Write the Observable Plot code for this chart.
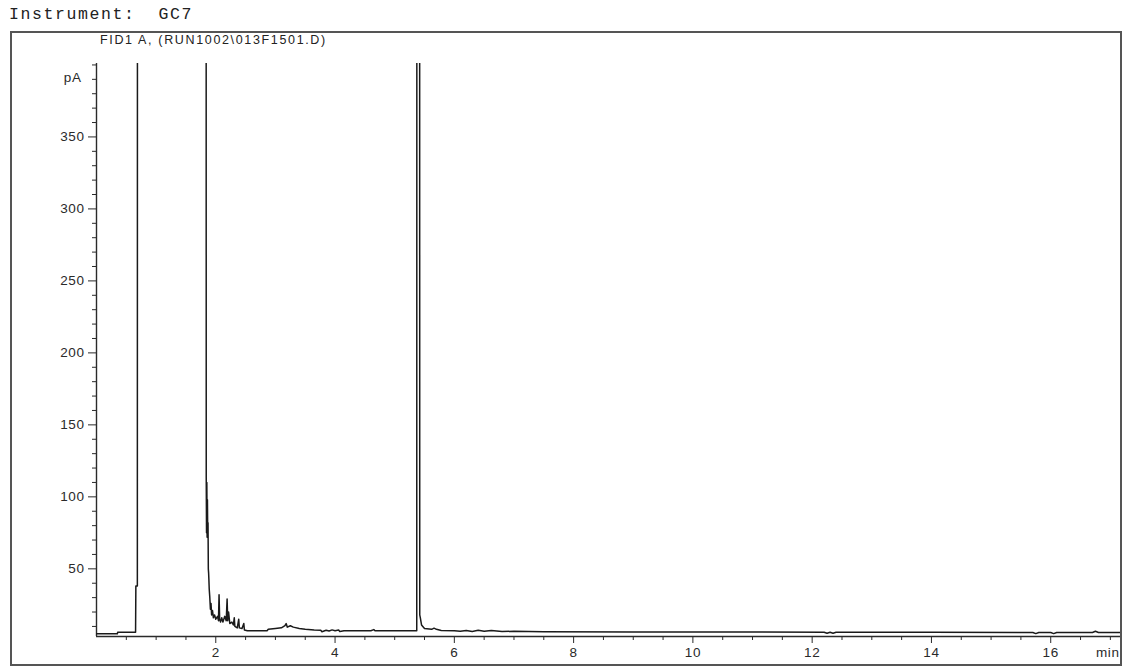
<!DOCTYPE html>
<html>
<head>
<meta charset="utf-8">
<script src="https://cdn.jsdelivr.net/npm/d3@7"></script>
<script src="https://cdn.jsdelivr.net/npm/@observablehq/plot@0.6"></script>
<style>
  html, body { margin: 0; padding: 0; background: #fff; }
  body { width: 1124px; height: 667px; position: relative; overflow: hidden; }
  #title {
    position: absolute; left: 9px; top: 5px;
    font-family: "Liberation Mono", "DejaVu Sans Mono", monospace;
    font-size: 16.5px; letter-spacing: 1.6px; color: #222; white-space: pre;
  }
  #box {
    position: absolute; left: 10px; top: 31px;
    width: 1108px; height: 631px;
    border: 2px solid #555;
  }
  #subtitle {
    height: 17px; line-height: 15px; padding-left: 88px;
    font-family: "Liberation Sans", Arial, sans-serif;
    font-size: 12.5px; letter-spacing: 1.65px; color: #222; white-space: pre;
  }
  #chart svg text { letter-spacing: 0.6px; }
</style>
</head>
<body>
<div id="title">Instrument:  GC7</div>
<div id="box">
  <div id="subtitle">FID1 A, (RUN1002\013F1501.D)</div>
  <div id="chart"></div>
</div>
<script>
// Retention time (min) and detector signal (pA); 1500 marks off-scale peaks
const time = [
  0.00, 0.35, 0.355, 0.655, 0.66, 0.685, 0.69,
  1.835, 1.84, 1.845, 1.85, 1.855, 1.86, 1.865, 1.87, 1.875, 1.88, 1.885, 1.89,
  1.90, 1.91, 1.92, 1.93, 1.945, 1.96, 1.98, 2.00, 2.03, 2.045, 2.055, 2.065,
  2.08, 2.10, 2.12, 2.15, 2.175, 2.19, 2.20, 2.215, 2.235, 2.27, 2.295, 2.31,
  2.32, 2.36, 2.385, 2.395, 2.44, 2.47, 2.48, 2.53, 2.86, 2.88, 3.00, 3.10,
  3.16, 3.18, 3.20, 3.25, 3.30, 3.40, 3.50, 3.65, 3.76, 3.78, 3.85, 3.90, 3.95,
  4.00, 4.06, 4.08, 4.15, 4.60, 4.65, 4.67, 5.00, 5.37,
  5.375, 5.415, 5.42, 5.43, 5.45, 5.50, 5.62, 5.66, 5.70, 5.78,
  6.00, 6.10, 6.20, 6.30, 6.40, 6.50, 6.62, 6.80, 7.00, 7.50, 9.00, 10.5,
  12.20, 12.25, 12.30, 12.35, 12.40, 14.0, 15.70, 15.75, 15.80, 16.00, 16.05,
  16.10, 16.70, 16.75, 16.80, 17.17
];
const signal = [
  4.9, 4.9, 6.0, 6.0, 38, 38, 1500,
  1500, 113, 75, 110, 72, 98, 74, 82, 50, 47, 42, 36,
  30, 22, 26, 18, 21, 16, 18, 15, 17, 14, 32, 15,
  13, 16, 13, 17, 14, 29, 14, 20, 12, 13, 11, 16,
  10, 9, 15, 9, 8.5, 12, 7.5, 7, 7, 8, 8.5, 9,
  10.5, 12, 9.5, 10.5, 9.5, 8.5, 8, 7.5, 7.3, 6.3, 7.3, 6.8, 7.6,
  7, 7.5, 6.4, 7, 7, 7.8, 7, 7, 7,
  1500, 1500, 18, 16, 11, 8.5, 8, 8.8, 8, 7.2,
  7, 6.6, 7.2, 6.5, 7.3, 6.6, 7.2, 6.5, 6.6, 6.3, 6.2, 6.1,
  6.0, 5.3, 6.0, 5.3, 6.0, 5.9, 5.8, 5.0, 5.8, 5.8, 5.0,
  5.8, 5.8, 6.6, 5.8, 5.8
];
const yMajorTicks = [50, 100, 150, 200, 250, 300, 350];
const xMajorTicks = [2, 4, 6, 8, 10, 12, 14, 16];
const yUnit = "pA";
const xUnit = "min";

const data = time.map((t, i) => ({t, v: signal[i]}));
const yMinor = d3.range(10, 401, 10).filter(v => !yMajorTicks.includes(v));
const xMinor = d3.range(0.5, 17.01, 0.5).filter(v => !xMajorTicks.includes(v));

const ink = "#2a2a2a";
const plot = Plot.plot({
  width: 1108,
  height: 614,
  marginLeft: 84,
  marginRight: 0,
  marginTop: 13,
  marginBottom: 28,
  style: {fontFamily: "'Liberation Sans', Arial, sans-serif", fontSize: "13.5px", color: ink, background: "white"},
  x: {domain: [0, 17.17]},
  y: {domain: [3, 401]},
  marks: [
    Plot.axisY({ticks: yMajorTicks, tickSize: 8, tickPadding: 4, label: null, stroke: ink}),
    Plot.axisY({ticks: yMinor, tickSize: 4, text: null, label: null, stroke: ink}),
    Plot.axisX({ticks: xMajorTicks, tickSize: 7, tickPadding: 4, label: null, stroke: ink}),
    Plot.axisX({ticks: xMinor, tickSize: 4, text: null, label: null, stroke: ink}),
    Plot.ruleX([0], {stroke: ink, strokeWidth: 1.4}),
    Plot.ruleY([3], {stroke: ink, strokeWidth: 1.4}),
    Plot.line(data, {x: "t", y: "v", stroke: "#1a1a1a", strokeWidth: 1.5, clip: true}),
    Plot.text([yUnit], {text: d => d, frameAnchor: "top-left", textAnchor: "end", dx: -15, dy: 9, fill: ink}),
    Plot.text([xUnit], {text: d => d, frameAnchor: "bottom-right", textAnchor: "end", lineAnchor: "top", dx: -1, dy: 11, fill: ink})
  ]
});
document.getElementById("chart").appendChild(plot);
</script>
</body>
</html>
